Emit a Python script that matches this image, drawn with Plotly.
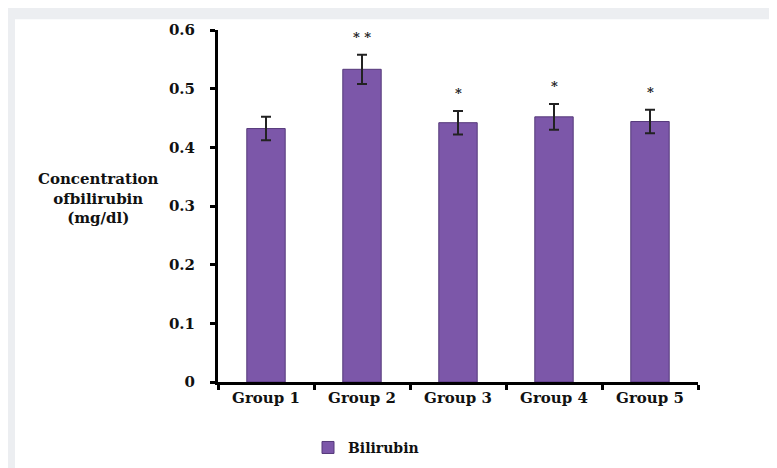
import plotly.graph_objects as go

groups = ["Group 1", "Group 2", "Group 3", "Group 4", "Group 5"]
bilirubin = [0.432, 0.533, 0.442, 0.452, 0.444]
errors = [0.020, 0.025, 0.020, 0.022, 0.020]
stars = ["", "* *", "*", "*", "*"]
y_ticks = [0, 0.1, 0.2, 0.3, 0.4, 0.5, 0.6]
y_ticklabels = ["0", "0.1", "0.2", "0.3", "0.4", "0.5", "0.6"]

W, H = 777, 468
ML, MR, MT, MB = 210, 87, 22, 88
pw, ph = W - ML - MR, H - MT - MB

font = "'DejaVu Serif', 'Liberation Serif', serif"

fig = go.Figure()
fig.add_trace(go.Bar(
    x=groups, y=bilirubin, name="<b>Bilirubin</b>",
    marker=dict(color="#7c57a9", line=dict(color="#55397a", width=1)),
    error_y=dict(type="data", array=errors, visible=True, color="#222222",
                 thickness=2, width=5),
))

for g, v, e, s in zip(groups, bilirubin, errors, stars):
    if s:
        fig.add_annotation(x=g, y=v + e, text="<b>%s</b>" % s, showarrow=False,
                           yanchor="bottom", yshift=8,
                           font=dict(family=font, size=13, color="#222222"))

fig.add_annotation(xref="paper", yref="paper",
                   x=(90 - ML) / pw, y=(H - MB - 193) / ph,
                   text="<b>Concentration<br>ofbilirubin<br>(mg/dl)</b>",
                   showarrow=False, xanchor="center", yanchor="middle",
                   align="center",
                   font=dict(family=font, size=15, color="#111111"))

# white panel over light-gray page
fig.add_shape(type="rect", xref="paper", yref="paper", layer="below",
              x0=(7 - ML) / pw, x1=(771 - ML) / pw,
              y0=(H - MB - 470) / ph, y1=(H - MB - 11) / ph,
              fillcolor="white", line=dict(width=0))

fig.update_layout(
    width=W, height=H,
    margin=dict(l=ML, r=MR, t=MT, b=MB),
    paper_bgcolor="#eceef1", plot_bgcolor="white",
    bargap=0.6,
    font=dict(family=font, size=14, color="#111111"),
    showlegend=True,
    legend=dict(orientation="h", x=(300 - ML) / pw, y=(H - MB - 447) / ph,
                xanchor="left", yanchor="middle",
                font=dict(family=font, size=14, color="#111111"),
                bgcolor="rgba(0,0,0,0)", itemwidth=30),
)
fig.update_yaxes(range=[0, 0.6], tickvals=y_ticks,
                 ticktext=["<b>%s</b>" % t for t in y_ticklabels],
                 showgrid=False, zeroline=False,
                 showline=True, linecolor="black", linewidth=3,
                 ticks="outside", ticklen=5, tickwidth=3, tickcolor="black",
                 ticklabelstandoff=12,
                 tickfont=dict(family=font, size=15, color="#111111"))
fig.update_xaxes(tickvals=groups, ticktext=["<b>%s</b>" % g for g in groups],
                 showgrid=False, showline=True, linecolor="black", linewidth=3,
                 ticks="outside", tickson="boundaries", ticklen=5, tickwidth=3,
                 tickcolor="black",
                 tickfont=dict(family=font, size=15, color="#111111"))

fig.write_html("out.html")
